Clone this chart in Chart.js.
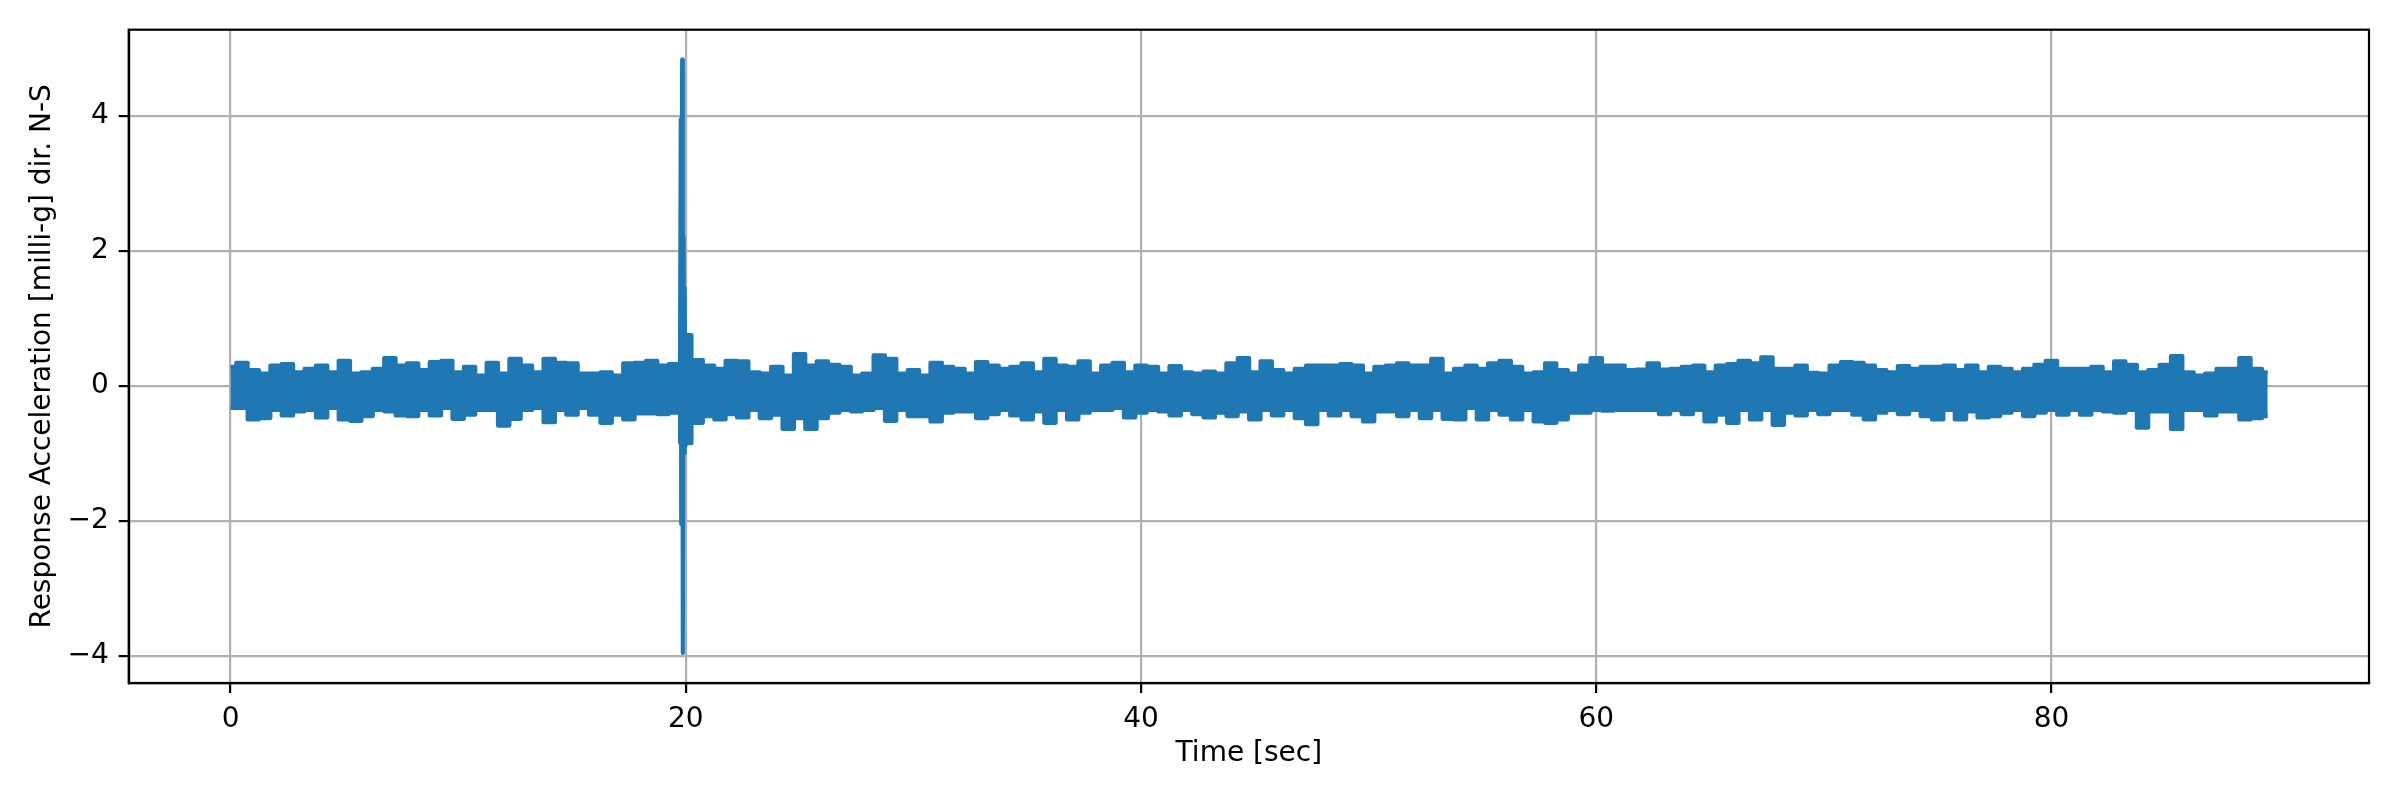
<!DOCTYPE html>
<html>
<head>
<meta charset="utf-8">
<script src="https://cdn.jsdelivr.net/npm/chart.js@4.4.1/dist/chart.umd.min.js"></script>
<style>
  html, body { margin: 0; padding: 0; background: #fff; }
  canvas { display: block; }
</style>
</head>
<body>
<canvas id="accelChart" width="2400" height="800" style="width:2400px;height:800px"></canvas>
<script>
// Signal envelope, one sample every half second (0 .. 89.5 s)
const sampleStep = 0.5;

const upperEnvelope = [
    0.28, 0.34, 0.23, 0.18, 0.30, 0.32, 0.20, 0.25, 0.30, 0.20,
    0.37, 0.18, 0.20, 0.25, 0.41, 0.30, 0.33, 0.23, 0.35, 0.37,
    0.20, 0.28, 0.15, 0.34, 0.18, 0.40, 0.30, 0.20, 0.40, 0.34,
    0.33, 0.18, 0.18, 0.20, 0.15, 0.33, 0.34, 0.37, 0.30, 0.32,
    0.75, 0.38, 0.30, 0.25, 0.37, 0.36, 0.20, 0.18, 0.28, 0.15,
    0.47, 0.30, 0.36, 0.31, 0.28, 0.15, 0.18, 0.45, 0.40, 0.18,
    0.23, 0.15, 0.34, 0.28, 0.25, 0.18, 0.35, 0.30, 0.25, 0.28,
    0.33, 0.20, 0.40, 0.30, 0.28, 0.36, 0.18, 0.30, 0.34, 0.20,
    0.30, 0.28, 0.18, 0.29, 0.20, 0.18, 0.21, 0.18, 0.33, 0.41,
    0.20, 0.36, 0.23, 0.18, 0.25, 0.30, 0.30, 0.30, 0.32, 0.30,
    0.18, 0.28, 0.30, 0.33, 0.30, 0.30, 0.40, 0.18, 0.25, 0.30,
    0.25, 0.33, 0.37, 0.28, 0.18, 0.20, 0.33, 0.23, 0.18, 0.30,
    0.41, 0.30, 0.30, 0.23, 0.24, 0.33, 0.24, 0.25, 0.28, 0.30,
    0.20, 0.30, 0.32, 0.37, 0.33, 0.42, 0.25, 0.25, 0.30, 0.19,
    0.18, 0.30, 0.35, 0.34, 0.30, 0.23, 0.20, 0.29, 0.25, 0.28,
    0.28, 0.30, 0.23, 0.30, 0.20, 0.28, 0.25, 0.20, 0.25, 0.31,
    0.37, 0.25, 0.25, 0.25, 0.28, 0.20, 0.36, 0.31, 0.20, 0.23,
    0.31, 0.44, 0.20, 0.15, 0.18, 0.25, 0.25, 0.41, 0.25, 0.20
];

const lowerEnvelope = [
    -0.33, -0.33, -0.50, -0.48, -0.36, -0.44, -0.38, -0.36, -0.47, -0.33,
    -0.50, -0.52, -0.45, -0.36, -0.38, -0.44, -0.45, -0.36, -0.44, -0.33,
    -0.49, -0.43, -0.36, -0.36, -0.59, -0.49, -0.36, -0.33, -0.54, -0.36,
    -0.43, -0.33, -0.43, -0.55, -0.43, -0.50, -0.41, -0.41, -0.42, -0.40,
    -0.85, -0.55, -0.45, -0.50, -0.42, -0.47, -0.36, -0.48, -0.43, -0.64,
    -0.48, -0.64, -0.48, -0.40, -0.36, -0.38, -0.36, -0.33, -0.52, -0.36,
    -0.45, -0.45, -0.53, -0.40, -0.38, -0.38, -0.48, -0.42, -0.36, -0.44,
    -0.50, -0.38, -0.55, -0.36, -0.50, -0.40, -0.36, -0.36, -0.33, -0.47,
    -0.40, -0.36, -0.38, -0.44, -0.36, -0.42, -0.47, -0.40, -0.45, -0.38,
    -0.50, -0.36, -0.44, -0.36, -0.48, -0.57, -0.36, -0.44, -0.36, -0.45,
    -0.53, -0.38, -0.38, -0.45, -0.36, -0.48, -0.36, -0.49, -0.50, -0.33,
    -0.50, -0.36, -0.43, -0.50, -0.36, -0.53, -0.55, -0.50, -0.40, -0.40,
    -0.36, -0.37, -0.36, -0.36, -0.36, -0.36, -0.42, -0.36, -0.42, -0.36,
    -0.53, -0.43, -0.55, -0.36, -0.50, -0.36, -0.58, -0.40, -0.44, -0.36,
    -0.42, -0.36, -0.36, -0.43, -0.50, -0.40, -0.36, -0.42, -0.36, -0.45,
    -0.50, -0.36, -0.50, -0.38, -0.47, -0.45, -0.40, -0.36, -0.45, -0.40,
    -0.36, -0.43, -0.36, -0.43, -0.36, -0.38, -0.40, -0.36, -0.62, -0.38,
    -0.38, -0.64, -0.36, -0.36, -0.44, -0.38, -0.38, -0.50, -0.48, -0.45
];

// The shock around t = 19.8 s
const spikeTimes  = [19.70, 19.74, 19.78, 19.80, 19.84, 19.87, 19.90, 19.93, 19.95, 19.98, 20.02, 20.06, 20.12, 20.20, 20.30];
const spikeValues = [0.25, -0.35, 3.95, -2.05, 4.83, -3.96, 2.20, -1.00, 1.45, -0.90, 0.75, -0.70, 0.50, -0.55, 0.30];

const xTicks = [0, 20, 40, 60, 80];
const yTicks = [-4, -2, 0, 2, 4];

const lineBlue = '#1f77b4';
const lineWidth = 4.17;
const fontFamily = "'DejaVu Sans', sans-serif";
const fontSize = 28;

const upperPoints = upperEnvelope.map((v, i) => ({ x: i * sampleStep, y: v }));
const lowerPoints = lowerEnvelope.map((v, i) => ({ x: i * sampleStep, y: v }));
const spikePoints = spikeTimes.map((t, i) => ({ x: t, y: spikeValues[i] }));

// top and right spines (Chart.js only draws the axis borders)
const frameBox = {
    id: 'frameBox',
    afterDraw(chart) {
        const { ctx, chartArea: a } = chart;
        ctx.save();
        ctx.strokeStyle = '#000';
        ctx.lineWidth = 2.2;
        ctx.strokeRect(a.left, a.top, a.right - a.left, a.bottom - a.top);
        ctx.restore();
    }
};

const minusSign = v => String(v).replace('-', '\u2212');

Chart.defaults.font.family = fontFamily;
Chart.defaults.font.size = fontSize;
Chart.defaults.color = '#000';

new Chart(document.getElementById('accelChart').getContext('2d'), {
    type: 'line',
    data: {
        datasets: [
            {
                data: upperPoints,
                borderColor: lineBlue,
                backgroundColor: lineBlue,
                borderWidth: lineWidth,
                borderJoinStyle: 'round',
                stepped: 'middle',
                pointRadius: 0,
                fill: '+1'
            },
            {
                data: lowerPoints,
                borderColor: lineBlue,
                borderWidth: lineWidth,
                borderJoinStyle: 'round',
                stepped: 'middle',
                pointRadius: 0,
                fill: false
            },
            {
                data: spikePoints,
                borderColor: lineBlue,
                borderWidth: lineWidth,
                borderJoinStyle: 'round',
                pointRadius: 0,
                fill: false
            }
        ]
    },
    options: {
        responsive: false,
        devicePixelRatio: 1,
        animation: false,
        layout: { padding: { top: 29.7, right: 31, bottom: 0, left: 0 } },
        plugins: { legend: { display: false }, tooltip: { enabled: false } },
        scales: {
            x: {
                type: 'linear',
                min: -4.475,
                max: 93.95,
                afterFit: scale => { scale.height = 117; },
                afterBuildTicks: scale => { scale.ticks = xTicks.map(v => ({ value: v })); },
                grid: { color: '#b0b0b0', lineWidth: 2.2, tickColor: '#000', tickLength: 10, tickWidth: 2.2 },
                border: { display: true, color: '#000', width: 2.2 },
                ticks: { padding: 10, maxRotation: 0, autoSkip: false, callback: minusSign },
                title: { display: true, text: 'Time [sec]', padding: { top: 0, bottom: 29 } }
            },
            y: {
                type: 'linear',
                min: -4.404,
                max: 5.274,
                afterFit: scale => { scale.width = 128.7; },
                afterBuildTicks: scale => { scale.ticks = yTicks.map(v => ({ value: v })); },
                grid: { color: '#b0b0b0', lineWidth: 2.2, tickColor: '#000', tickLength: 10, tickWidth: 2.2 },
                border: { display: true, color: '#000', width: 2.2 },
                ticks: { padding: 10, autoSkip: false, callback: minusSign },
                title: { display: true, text: 'Response Acceleration [milli-g] dir. N-S', padding: { top: 26, bottom: 0 } }
            }
        }
    },
    plugins: [frameBox]
});
</script>
</body>
</html>
